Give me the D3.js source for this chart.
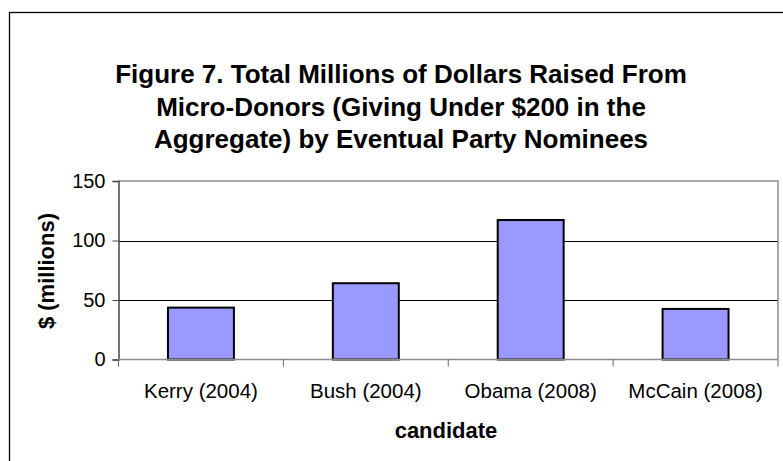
<!DOCTYPE html>
<html>
<head>
<meta charset="utf-8">
<script src="https://cdn.jsdelivr.net/npm/d3@7"></script>
<style>
  body { margin: 0; background: #fff; }
  svg text { font-family: Arial, "Liberation Sans", sans-serif; fill: #000; }
</style>
</head>
<body>
<div id="chart"></div>
<script>
var candidates = ["Kerry (2004)", "Bush (2004)", "Obama (2008)", "McCain (2008)"];
var raised = [43.6, 64.1, 117.2, 42.5];
var yTicks = [0, 50, 100, 150];
var titleLines = [
    "Figure 7. Total Millions of Dollars Raised From",
    "Micro-Donors (Giving Under $200 in the",
    "Aggregate) by Eventual Party Nominees"
];

var width = 783, height = 461;
var plot = { left: 118.5, right: 778, top: 181, bottom: 359.5 };

var svg = d3.select("#chart")
    .append("svg")
    .attr("width", width)
    .attr("height", height);

// chart frame (runs off the right and bottom edge)
svg.append("rect")
    .attr("x", 9.5)
    .attr("y", 12.5)
    .attr("width", 800)
    .attr("height", 500)
    .attr("fill", "#fff")
    .attr("stroke", "#000")
    .attr("stroke-width", 1.3);

var x = d3.scaleBand()
    .domain(candidates)
    .range([plot.left, plot.right])
    .paddingInner(0)
    .paddingOuter(0);

var y = d3.scaleLinear()
    .domain([0, 150])
    .range([plot.bottom, plot.top]);

// gridlines
svg.append("g")
    .selectAll("line")
    .data(yTicks.filter(d => d > 0 && d < 150))
    .join("line")
    .attr("x1", plot.left)
    .attr("x2", plot.right)
    .attr("y1", d => Math.round(y(d)) + 0.5)
    .attr("y2", d => Math.round(y(d)) + 0.5)
    .attr("stroke", "#000")
    .attr("stroke-width", 1);

// plot area border, top and right
svg.append("path")
    .attr("d", `M${plot.left},${plot.top}H${plot.right}V${plot.bottom}`)
    .attr("fill", "none")
    .attr("stroke", "#8c8c8c")
    .attr("stroke-width", 1.5);

// bars: gap width 150%
var barW = x.bandwidth() / 2.5;
svg.append("g")
    .selectAll("rect")
    .data(candidates)
    .join("rect")
    .attr("x", (d, i) => x(d) + (x.bandwidth() - barW) / 2)
    .attr("y", (d, i) => y(raised[i]))
    .attr("width", barW)
    .attr("height", (d, i) => y(0) - y(raised[i]))
    .attr("fill", "#9999ff")
    .attr("stroke", "#000")
    .attr("stroke-width", 2);

// y axis
var yAxis = svg.append("g")
    .attr("transform", `translate(${plot.left},0)`)
    .call(d3.axisLeft(y).tickValues(yTicks).tickSize(6).tickPadding(7));
yAxis.select(".domain").attr("stroke", "#444").attr("stroke-width", 1.5);
yAxis.selectAll(".tick line").attr("stroke", "#444");
yAxis.selectAll("text")
    .style("font-size", "20px")
    .attr("fill", "#000");

// x axis with ticks at the category edges
var xAxis = svg.append("g")
    .attr("transform", `translate(0,${plot.bottom})`);
xAxis.append("line")
    .attr("x1", plot.left)
    .attr("x2", plot.right)
    .attr("stroke", "#8c8c8c")
    .attr("stroke-width", 1.5);
xAxis.selectAll(".edge")
    .data(candidates.concat(["end"]))
    .join("line")
    .attr("class", "edge")
    .attr("x1", (d, i) => i < candidates.length ? x(d) : plot.right)
    .attr("x2", (d, i) => i < candidates.length ? x(d) : plot.right)
    .attr("y1", 0)
    .attr("y2", 7)
    .attr("stroke", "#666");
xAxis.selectAll(".lbl")
    .data(candidates)
    .join("text")
    .attr("class", "lbl")
    .attr("x", d => x(d) + x.bandwidth() / 2)
    .attr("y", 38)
    .attr("text-anchor", "middle")
    .style("font-size", "20.5px")
    .text(d => d);

// axis titles
svg.append("text")
    .attr("x", 446)
    .attr("y", 438)
    .attr("text-anchor", "middle")
    .style("font-size", "22px")
    .style("font-weight", "bold")
    .text("candidate");

svg.append("text")
    .attr("transform", "translate(54,271) rotate(-90)")
    .attr("text-anchor", "middle")
    .style("font-size", "22px")
    .style("font-weight", "bold")
    .text("$ (millions)");

// title
svg.append("g")
    .selectAll("text")
    .data(titleLines)
    .join("text")
    .attr("x", 401)
    .attr("y", (d, i) => 83 + i * 32.5)
    .attr("text-anchor", "middle")
    .style("font-size", "26px")
    .style("font-weight", "bold")
    .text(d => d);
</script>
</body>
</html>
